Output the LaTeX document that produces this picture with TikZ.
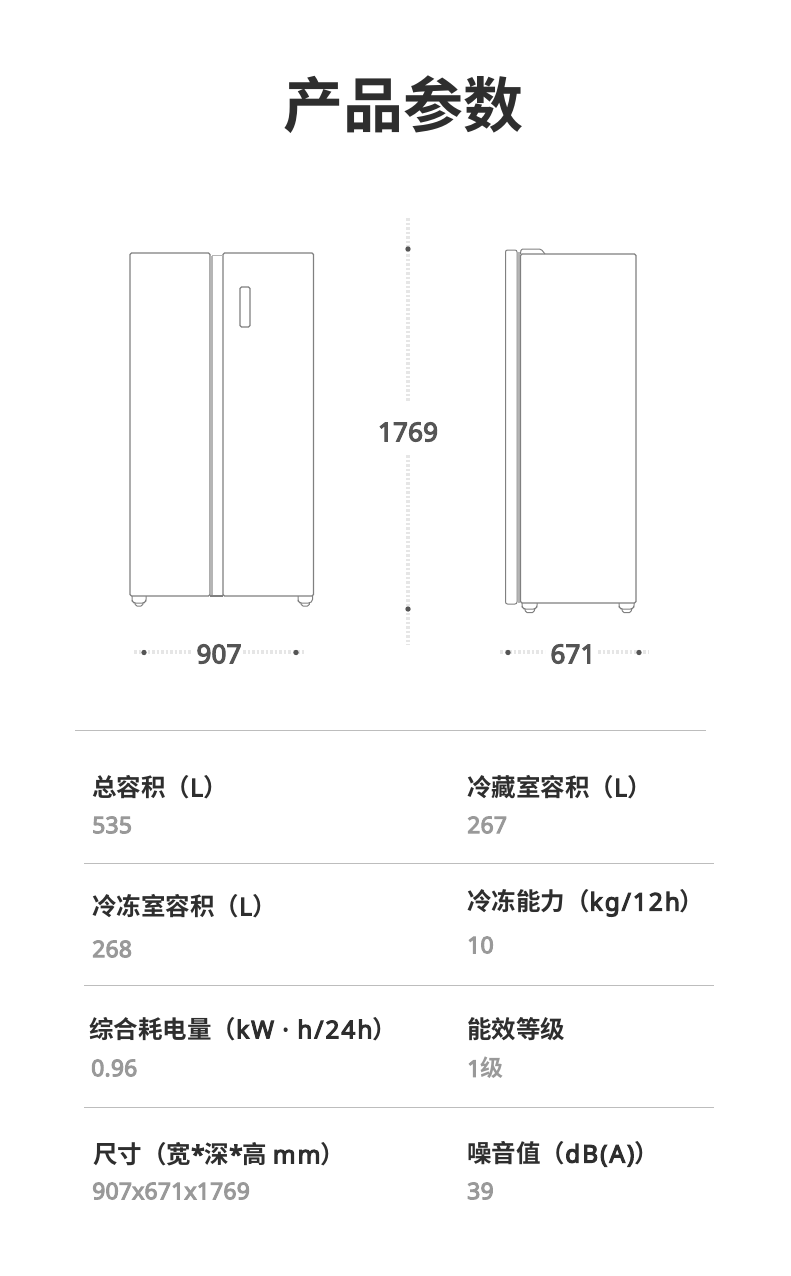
\documentclass[tikz,border=0pt]{standalone}
\usepackage{fontspec}
\newfontfamily\cjkbold{Noto Sans CJK SC Bold}
\newfontfamily\latbold{Noto Sans}[FakeBold=4.5,LetterSpace=0.7]
\newfontfamily\latwide{Noto Sans}[FakeBold=4.5,LetterSpace=8]
\newcommand{\lat}[1]{{\latbold #1}}
\newcommand{\latw}[1]{{\latwide #1}}
\definecolor{ink}{HTML}{2E2E2E}
\definecolor{lineg}{HTML}{808080}
\definecolor{stripg}{HTML}{B5B5B5}
\definecolor{ruleg}{HTML}{BDBDBD}
\definecolor{dimg}{HTML}{555555}
\definecolor{valg}{HTML}{999999}
\definecolor{dotg}{HTML}{E6E6E6}
\tikzset{
  x=1pt,y=-1pt,
  titletext/.style={font=\cjkbold\fontsize{60}{60}\selectfont,text=ink,inner sep=0pt},
  labeltext/.style={font=\cjkbold\fontsize{24.5}{25}\selectfont,text=ink,anchor=west,inner sep=0pt},
  valtext/.style={font=\cjkbold\fontsize{23}{24}\selectfont,text=valg,anchor=west,inner sep=0pt},
  dimtext/.style={font=\cjkbold\fontsize{26}{27}\selectfont,text=dimg,inner sep=0pt},
  outline/.style={draw=lineg,line width=1.2pt,rounded corners=1.5pt},
  strip/.style={draw=stripg,line width=1.5pt},
  rulel/.style={draw=ruleg,line width=1pt},
  dotted leader/.style={draw=dotg,line width=4pt,dash pattern=on 2.5pt off 2pt},
  blob/.style={fill=dimg,draw=none}
}
\begin{document}
\begin{tikzpicture}
\useasboundingbox (0,0) rectangle (790,1276);
\node[titletext] (title) at (403,105) {产品参数};

% front view
\draw[outline] (130,596) -- (130,253) -- (210,253) -- (210,596) -- cycle;
\draw[outline] (223,596) -- (223,253) -- (313.5,253) -- (313.5,596) -- cycle;
\draw[strip,line width=2.5pt] (211.5,256) -- (211.5,596);
\draw[draw=stripg,line width=1pt] (212,255) -- (223,255);
\draw[lineg,line width=1.2pt] (210,596) -- (223,596);
\draw[outline] (240,287) rectangle (250,327);
\draw[outline,line width=1pt] (132,596) -- (132,601) -- (134,603) -- (144,603) -- (146,601) -- (146,596);
\draw[outline,line width=1pt] (135,603) -- (135.5,606) -- (142.5,606) -- (143,603);
\draw[outline,line width=1pt] (298,596) -- (298,601) -- (300,603) -- (310,603) -- (312.5,601) -- (312.5,596);
\draw[outline,line width=1pt] (301,603) -- (301.5,606) -- (309,606) -- (309.5,603);

% side view
\draw[draw=lineg,line width=1pt,rounded corners=2pt] (505.5,604) -- (505.5,250) -- (517,250) -- (517,604) -- cycle;
\draw[strip,line width=2pt] (518.5,252) -- (518.5,603);
\draw[outline] (520.5,603) -- (520.5,254) -- (636,254) -- (636,603) -- cycle;
\draw[draw=lineg,line width=1pt,rounded corners=1.5pt] (520.5,254) -- (521,249) -- (541,249) -- (545,254);
\draw[outline,line width=1pt] (522,603) -- (522,607) -- (524,609) -- (535,609) -- (537,607) -- (537,603);
\draw[outline,line width=1pt] (525,609) -- (525.5,612.5) -- (534,612.5) -- (534.5,609);
\draw[outline,line width=1pt] (619,603) -- (619,607) -- (621,609) -- (632,609) -- (634,607) -- (634,603);
\draw[outline,line width=1pt] (622,609) -- (622.5,612.5) -- (631,612.5) -- (631.5,609);

% dimensions
\draw[dotted leader] (408,218) -- (408,402);
\draw[dotted leader] (408,455) -- (408,645);
\draw[dotted leader] (134,652) -- (192,652);
\draw[dotted leader] (243,652) -- (305,652);
\draw[dotted leader] (500,652) -- (545,652);
\draw[dotted leader] (598,652) -- (648,652);
\foreach \px/\py in {408/249,408/609,144/652.5,296/652.5,508/652.5,639/652.5}
  \fill[blob] (\px,\py) circle (2.7pt);
\node[dimtext] (h) at (408,432) {\lat{1769}};
\node[dimtext] (w) at (219,654) {\lat{907}};
\node[dimtext] (d) at (573,654) {\lat{671}};

% rules
\draw[rulel] (75,730) -- (706,730);
\draw[rulel] (84,863) -- (714,863);
\draw[rulel] (84,985) -- (714,985);
\draw[rulel] (84,1107) -- (714,1107);

% table
\node[labeltext] (l1) at (92,787) {总容积（\latw{L}）};
\node[valtext]   (v1) at (92,825) {\lat{535}};
\node[labeltext] (l2) at (467,787) {冷藏室容积（\latw{L}）};
\node[valtext]   (v2) at (467,825) {\lat{267}};
\node[labeltext] (l3) at (92,906) {冷冻室容积（\latw{L}）};
\node[valtext]   (v3) at (92,949) {\lat{268}};
\node[labeltext] (l4) at (467,903) {冷冻能力（\latw{kg/12h}）};
\node[valtext]   (v4) at (467,945) {\lat{10}};
\node[labeltext] (l5) at (89,1029) {综合耗电量（\latw{kW · h/24h}）};
\node[valtext]   (v5) at (91,1068) {\lat{0.96}};
\node[labeltext] (l6) at (467,1029) {能效等级};
\node[valtext]   (v6) at (467,1068) {\lat{1}级};
\node[labeltext] (l7) at (93,1154) {尺寸（宽\lat{*}深\lat{*}高 \latw{mm}）};
\node[valtext]   (v7) at (92,1191) {\lat{907x671x1769}};
\node[labeltext] (l8) at (467,1154) {噪音值（\latw{dB(A)}）};
\node[valtext]   (v8) at (467,1191) {\lat{39}};
\end{tikzpicture}
\end{document}
